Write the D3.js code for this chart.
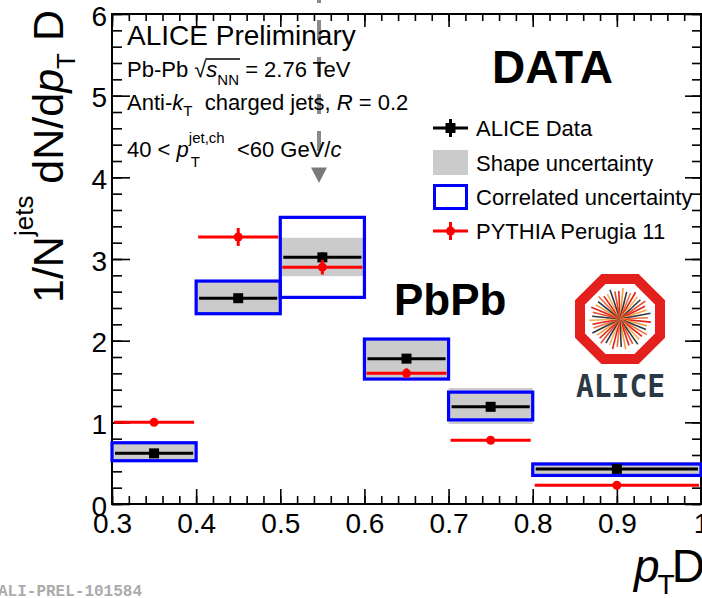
<!DOCTYPE html>
<html>
<head>
<meta charset="utf-8">
<script src="https://cdn.jsdelivr.net/npm/d3@7"></script>
<style>
  html, body { margin: 0; padding: 0; background: #fff; }
  svg { display: block; font-family: "Liberation Sans", Arial, Helvetica, sans-serif; }
  text { white-space: pre; }
</style>
</head>
<body>
<svg id="chart" width="702" height="598"></svg>
<script>
// p_T D distribution, 40 < pT(jet,ch) < 60 GeV/c, anti-kT R = 0.2, Pb-Pb 2.76 TeV
const binLo   = [0.3, 0.4, 0.5, 0.6, 0.7, 0.8];
const binHi   = [0.4, 0.5, 0.6, 0.7, 0.8, 1.0];
const binMid  = [0.35, 0.45, 0.55, 0.65, 0.75, 0.9];
const dataVal  = [0.62, 2.52, 3.02, 1.78, 1.19, 0.43];
const dataStat = [0.03, 0.04, 0.06, 0.05, 0.04, 0.02];
const shapeLo  = [0.53, 2.33, 2.79, 1.53, 0.98, 0.33];
const shapeHi  = [0.75, 2.73, 3.26, 2.02, 1.42, 0.51];
const corrLo   = [0.53, 2.33, 2.53, 1.53, 1.03, 0.35];
const corrHi   = [0.75, 2.73, 3.51, 2.02, 1.37, 0.49];
const pythiaVal = [1.00, 3.27, 2.90, 1.60, 0.78, 0.23];
const pythiaErr = [0.02, 0.11, 0.09, 0.06, 0.03, 0.02];

// vertical reference marker (dashed line ending in an arrow)
const markerX = 0.546;
const markerTop = 6.38;
const markerBase = 4.12;
const markerTip = 3.93;

const xTickValues = [0.3, 0.4, 0.5, 0.6, 0.7, 0.8, 0.9, 1.0];
const xTickLabels = ["0.3", "0.4", "0.5", "0.6", "0.7", "0.8", "0.9", "1"];
const yTickValues = [0, 1, 2, 3, 4, 5, 6];
const yTickLabels = ["0", "1", "2", "3", "4", "5", "6"];

const legendLabels = ["ALICE Data", "Shape uncertainty", "Correlated uncertainty", "PYTHIA Perugia 11"];

const svg = d3.select("#chart");
const x = d3.scaleLinear().domain([0.3, 1.0]).range([112, 701]);
const y = d3.scaleLinear().domain([0, 6]).range([504, 14]);

const BLUE = "#0000ff", RED = "#ff0000", GRAY = "#cbcbcb";

// lays out a run of text pieces (sub/superscripts, italics) left to right
function rich(g, x0, y0, segs, base) {
  let cx = x0, pend = null;
  segs.forEach(s => {
    const sx = cx + (s.dx || 0);
    const t = g.append("text")
      .attr("x", sx).attr("y", y0 + (s.dy || 0))
      .attr("font-size", s.size || base)
      .attr("font-weight", s.bold ? "bold" : null)
      .attr("font-style", s.italic ? "italic" : null)
      .text(s.t);
    const w = t.node().getComputedTextLength();
    s.x0 = sx; s.x1 = sx + w;
    if (s.stack) { pend = s.x1; }
    else { cx = Math.max(s.x1, pend || -1e9); pend = null; }
  });
  return segs;
}

// ---- axes ----
function styleAxis(g) {
  g.select(".domain").remove();
  g.selectAll(".tick line").attr("stroke", "#000").attr("stroke-width", 1.6);
}
const xMinor = d3.range(0, 36).map(i => +(0.3 + i * 0.02).toFixed(2));
const yMinor = d3.range(0, 31).map(i => +(i * 0.2).toFixed(1));

svg.append("g").attr("transform", "translate(0,504)")
  .call(d3.axisBottom(x).tickValues(xMinor).tickSize(-8).tickFormat(""))
  .call(styleAxis);
svg.append("g").attr("transform", "translate(0,14)")
  .call(d3.axisTop(x).tickValues(xMinor).tickSize(-7).tickFormat(""))
  .call(styleAxis);
svg.append("g").attr("transform", "translate(112,0)")
  .call(d3.axisLeft(y).tickValues(yMinor).tickSize(-10).tickFormat(""))
  .call(styleAxis);
svg.append("g").attr("transform", "translate(701,0)")
  .call(d3.axisRight(y).tickValues(yMinor).tickSize(-9).tickFormat(""))
  .call(styleAxis);

const xAx = svg.append("g").attr("transform", "translate(0,504)")
  .call(d3.axisBottom(x).tickValues(xTickValues).tickSize(-15).tickPadding(10)
    .tickFormat((d, i) => xTickLabels[i]))
  .call(styleAxis);
xAx.selectAll(".tick text").attr("font-size", 28).attr("fill", "#000")
  .attr("font-family", "Liberation Sans, Arial, sans-serif")
  .attr("y", 29).attr("dy", null);
svg.append("g").attr("transform", "translate(0,14)")
  .call(d3.axisTop(x).tickValues(xTickValues).tickSize(-13).tickFormat(""))
  .call(styleAxis);

const yAx = svg.append("g").attr("transform", "translate(112,0)")
  .call(d3.axisLeft(y).tickValues(yTickValues).tickSize(-18).tickPadding(6)
    .tickFormat((d, i) => yTickLabels[i]))
  .call(styleAxis);
yAx.selectAll(".tick text").attr("font-size", 28).attr("fill", "#000")
  .attr("font-family", "Liberation Sans, Arial, sans-serif")
  .attr("x", -5).attr("dy", 11);
svg.append("g").attr("transform", "translate(701,0)")
  .call(d3.axisRight(y).tickValues(yTickValues).tickSize(-16).tickFormat(""))
  .call(styleAxis);

// frame
svg.append("rect").attr("x", x(0.3)).attr("y", y(6))
  .attr("width", x(1.0) - x(0.3)).attr("height", y(0) - y(6))
  .attr("fill", "none").attr("stroke", "#000").attr("stroke-width", 2);

// ---- dashed reference marker ----
svg.append("line")
  .attr("x1", x(markerX)).attr("x2", x(markerX))
  .attr("y1", y(markerTop)).attr("y2", y(markerBase))
  .attr("stroke", "#8a8a8a").attr("stroke-width", 4)
  .attr("stroke-dasharray", "20,17");
svg.append("path")
  .attr("d", `M${x(markerX) - 8},${y(markerBase)} L${x(markerX) + 8},${y(markerBase)} L${x(markerX)},${y(markerTip)} Z`)
  .attr("fill", "#7a7a7a");

// ---- uncertainty boxes and points ----
const idx = d3.range(binLo.length);
const plot = svg.append("g");

plot.selectAll("rect.shape").data(idx).join("rect").attr("class", "shape")
  .attr("x", i => x(binLo[i])).attr("width", i => x(binHi[i]) - x(binLo[i]))
  .attr("y", i => y(shapeHi[i])).attr("height", i => y(shapeLo[i]) - y(shapeHi[i]))
  .attr("fill", GRAY);

plot.selectAll("rect.corr").data(idx).join("rect").attr("class", "corr")
  .attr("x", i => x(binLo[i])).attr("width", i => x(binHi[i]) - x(binLo[i]))
  .attr("y", i => y(corrHi[i])).attr("height", i => y(corrLo[i]) - y(corrHi[i]))
  .attr("fill", "none").attr("stroke", BLUE).attr("stroke-width", 3.2);

plot.selectAll("line.dh").data(idx).join("line").attr("class", "dh")
  .attr("x1", i => x(binLo[i]) + 3).attr("x2", i => x(binHi[i]) - 3)
  .attr("y1", i => y(dataVal[i])).attr("y2", i => y(dataVal[i]))
  .attr("stroke", "#000").attr("stroke-width", 3);
plot.selectAll("line.dv").data(idx).join("line").attr("class", "dv")
  .attr("x1", i => x(binMid[i])).attr("x2", i => x(binMid[i]))
  .attr("y1", i => y(dataVal[i] + dataStat[i])).attr("y2", i => y(dataVal[i] - dataStat[i]))
  .attr("stroke", "#000").attr("stroke-width", 3);
plot.selectAll("rect.dm").data(idx).join("rect").attr("class", "dm")
  .attr("x", i => x(binMid[i]) - 5).attr("y", i => y(dataVal[i]) - 5)
  .attr("width", 10).attr("height", 10).attr("fill", "#000");

plot.selectAll("line.ph").data(idx).join("line").attr("class", "ph")
  .attr("x1", i => x(binLo[i]) + 2).attr("x2", i => x(binHi[i]) - 2)
  .attr("y1", i => y(pythiaVal[i])).attr("y2", i => y(pythiaVal[i]))
  .attr("stroke", RED).attr("stroke-width", 3);
plot.selectAll("line.pv").data(idx).join("line").attr("class", "pv")
  .attr("x1", i => x(binMid[i])).attr("x2", i => x(binMid[i]))
  .attr("y1", i => y(pythiaVal[i] + pythiaErr[i])).attr("y2", i => y(pythiaVal[i] - pythiaErr[i]))
  .attr("stroke", RED).attr("stroke-width", 3);
plot.selectAll("circle.pm").data(idx).join("circle").attr("class", "pm")
  .attr("cx", i => x(binMid[i])).attr("cy", i => y(pythiaVal[i]))
  .attr("r", 4.5).attr("fill", RED);

// ---- legend ----
const lg = svg.append("g");
const lx0 = 433, lx1 = 468, lmid = 450.5;
const rows = [128, 162.5, 197, 231];
lg.append("line").attr("x1", lx0).attr("x2", lx1).attr("y1", rows[0]).attr("y2", rows[0])
  .attr("stroke", "#000").attr("stroke-width", 3);
lg.append("line").attr("x1", lmid).attr("x2", lmid).attr("y1", rows[0] - 9).attr("y2", rows[0] + 9)
  .attr("stroke", "#000").attr("stroke-width", 3);
lg.append("rect").attr("x", lmid - 5).attr("y", rows[0] - 5).attr("width", 10).attr("height", 10).attr("fill", "#000");
lg.append("rect").attr("x", lx0).attr("y", rows[1] - 12.5).attr("width", lx1 - lx0).attr("height", 25).attr("fill", GRAY);
lg.append("rect").attr("x", lx0 + 1.5).attr("y", rows[2] - 11.5).attr("width", lx1 - lx0 - 3).attr("height", 23)
  .attr("fill", "none").attr("stroke", BLUE).attr("stroke-width", 3);
lg.append("line").attr("x1", lx0).attr("x2", lx1).attr("y1", rows[3]).attr("y2", rows[3])
  .attr("stroke", RED).attr("stroke-width", 3);
lg.append("line").attr("x1", lmid).attr("x2", lmid).attr("y1", rows[3] - 9).attr("y2", rows[3] + 9)
  .attr("stroke", RED).attr("stroke-width", 3);
lg.append("circle").attr("cx", lmid).attr("cy", rows[3]).attr("r", 4.5).attr("fill", RED);
lg.selectAll("text").data(legendLabels).join("text")
  .attr("x", 476).attr("y", (d, i) => rows[i] + 8)
  .attr("font-size", 22).attr("fill", "#000").text(d => d);

// ---- captions ----
const cap = svg.append("g").attr("fill", "#000");
cap.append("text").attr("x", 127).attr("y", 45).attr("font-size", 28).text("ALICE Preliminary");
const l2 = rich(cap, 127, 77, [
  { t: "Pb-Pb " }, { t: "√" }, { t: "s", italic: true },
  { t: "NN", size: 15, dy: 8 }, { t: " = 2.76 TeV" }
], 22);
cap.append("line").attr("x1", l2[1].x1 - 1).attr("x2", l2[3].x1 + 1)
  .attr("y1", 59).attr("y2", 59).attr("stroke", "#000").attr("stroke-width", 1.3);
rich(cap, 127, 110, [
  { t: "Anti-" }, { t: "k", italic: true }, { t: "T", size: 15, dy: 6 },
  { t: "  charged jets, " }, { t: "R", italic: true }, { t: " = 0.2" }
], 22);
rich(cap, 127, 157, [
  { t: "40 < " }, { t: "p", italic: true },
  { t: "jet,ch", size: 15, dy: -14, stack: true }, { t: "T", size: 15, dy: 10, dx: 2 },
  { t: "  <60 GeV/" }, { t: "c", italic: true }
], 22);

svg.append("text").attr("x", 492).attr("y", 83).attr("font-size", 46)
  .attr("font-weight", "bold").text("DATA");
svg.append("text").attr("x", 394).attr("y", 315).attr("font-size", 44)
  .attr("font-weight", "bold").text("PbPb");

// axis titles
const yTitle = svg.append("g").attr("transform", "translate(63,303) rotate(-90)");
rich(yTitle, 0, 0, [
  { t: "1/N" }, { t: "jets", size: 26, dy: -30 }, { t: " dN/d" },
  { t: "p", italic: true }, { t: "T", size: 26, dy: 12 }, { t: " D" }
], 43);
rich(svg.append("g"), 634, 582, [
  { t: "p", italic: true }, { t: "T", size: 28, dy: 12, dx: -2 }, { t: "D", dx: -3 }
], 46);

svg.append("text").attr("x", -2).attr("y", 596).attr("font-size", 16)
  .attr("font-family", "Liberation Mono, Courier New, monospace").attr("font-weight", "bold")
  .attr("fill", "#ababab").text("ALI-PREL-101584");

// ---- experiment logo ----
const logo = svg.append("g").attr("transform", "translate(620,319)");
function octagon(apothem) {
  const R = apothem / Math.cos(Math.PI / 8);
  return d3.range(8).map(k => {
    const a = Math.PI / 8 + k * Math.PI / 4;
    return [R * Math.cos(a), R * Math.sin(a)];
  });
}
logo.append("path").attr("d", d3.line()(octagon(45)) + "Z").attr("fill", "#e3201b");
logo.append("path").attr("d", d3.line()(octagon(35)) + "Z").attr("fill", "#fff");
const rayColors = ["#e3201b", "#f39a3b", "#2b3947", "#f06f3a", "#e3201b", "#f7b25a", "#2b3947", "#e84a2a"];
const rays = d3.range(44);
logo.selectAll("line.ray").data(rays).join("line").attr("class", "ray")
  .attr("x1", 0).attr("y1", 0)
  .attr("x2", k => (k % 3 === 0 ? 31 : 28) * Math.cos(k * 2 * Math.PI / 44 + 0.1))
  .attr("y2", k => (k % 3 === 0 ? 31 : 28) * Math.sin(k * 2 * Math.PI / 44 + 0.1))
  .attr("stroke", k => rayColors[k % rayColors.length]).attr("stroke-width", 1.6);
svg.append("text").attr("x", 576).attr("y", 397).attr("font-size", 32)
  .attr("font-family", "DejaVu Sans Mono, monospace").attr("font-weight", "bold")
  .attr("fill", "#2b3947").attr("textLength", 89).attr("lengthAdjust", "spacingAndGlyphs")
  .text("ALICE");
</script>
</body>
</html>
